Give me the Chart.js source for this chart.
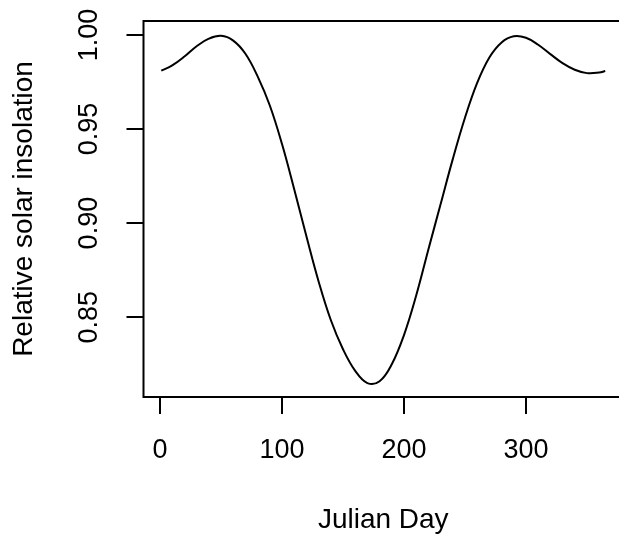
<!DOCTYPE html>
<html>
<head>
<meta charset="utf-8">
<script src="https://cdn.jsdelivr.net/npm/chart.js@4"></script>
<style>
  html, body { margin: 0; padding: 0; background: #fff; overflow: hidden; }
  canvas { display: block; }
</style>
</head>
<body>
<canvas id="insolChart" width="630" height="536"></canvas>
<script>
// Julian day and relative solar insolation
var days = [1, 10, 20, 30, 40, 50, 60, 70, 80, 90, 100, 110, 120, 130, 140, 150, 160, 170,
  180, 190, 200, 210, 220, 230, 240, 250, 260, 270, 280, 290, 300, 310, 320, 330, 340, 350, 360, 365];
var insolation = [0.981, 0.9838, 0.9885, 0.994, 0.998, 0.9995, 0.997, 0.990, 0.978, 0.9625, 0.942,
  0.918, 0.893, 0.869, 0.8485, 0.833, 0.8215, 0.815, 0.816, 0.825, 0.8405, 0.8615, 0.886,
  0.910, 0.934, 0.956, 0.9745, 0.988, 0.996, 0.9993, 0.9985, 0.9948, 0.9898, 0.985, 0.9815,
  0.9797, 0.980, 0.9808];
var xTicks = [0, 100, 200, 300];
var yTicks = [0.85, 0.90, 0.95, 1.00];

var FONT = '"Liberation Sans", Arial, sans-serif';
var points = days.map(function (d, i) { return { x: d, y: insolation[i] }; });

// box, tick labels and axis titles drawn the way base R does
var rLook = {
  id: "rLook",
  afterDraw: function (chart) {
    var c = chart.ctx, a = chart.chartArea;
    var xs = chart.scales.x, ys = chart.scales.y;
    c.save();
    c.strokeStyle = "#000";
    c.lineWidth = 2;
    c.strokeRect(a.left, a.top, a.right - a.left, a.bottom - a.top);
    c.fillStyle = "#000";
    c.font = "27px " + FONT;
    c.textAlign = "center";
    c.textBaseline = "middle";
    xTicks.forEach(function (v) {
      c.fillText(String(v), xs.getPixelForValue(v), 451);
    });
    yTicks.forEach(function (v) {
      c.save();
      c.translate(90, ys.getPixelForValue(v));
      c.rotate(-Math.PI / 2);
      c.fillText(v.toFixed(2), 0, 0);
      c.restore();
    });
    c.font = "28px " + FONT;
    c.fillText("Julian Day", (a.left + 623) / 2, 520);
    c.save();
    c.translate(24, (a.top + a.bottom) / 2);
    c.rotate(-Math.PI / 2);
    c.fillText("Relative solar insolation", 0, 0);
    c.restore();
    c.restore();
  }
};

var ctx = document.getElementById("insolChart").getContext("2d");
var insolChart = new Chart(ctx, {
  type: "line",
  data: {
    datasets: [
      {
        data: points,
        borderColor: "#000",
        borderWidth: 2,
        pointRadius: 0,
        fill: false,
        tension: 0.4
      }
    ]
  },
  options: {
    responsive: false,
    animation: false,
    layout: { padding: { top: 21, right: 7, left: 0, bottom: 0 } },
    scales: {
      x: {
        type: "linear",
        min: -13.56,
        max: 379.56,
        afterBuildTicks: function (s) { s.ticks = xTicks.map(function (v) { return { value: v }; }); },
        afterFit: function (s) { s.height = 139; },
        ticks: { display: false },
        grid: { drawOnChartArea: false, drawTicks: true, tickLength: 17, color: "#000", lineWidth: 2 },
        border: { display: false }
      },
      y: {
        min: 0.8076,
        max: 1.0074,
        afterBuildTicks: function (s) { s.ticks = yTicks.map(function (v) { return { value: v }; }); },
        afterFit: function (s) { s.width = 143.5; },
        ticks: { display: false },
        grid: { drawOnChartArea: false, drawTicks: true, tickLength: 17, color: "#000", lineWidth: 2 },
        border: { display: false }
      }
    },
    plugins: {
      legend: { display: false },
      tooltip: { enabled: false }
    }
  },
  plugins: [rLook]
});
</script>
</body>
</html>
